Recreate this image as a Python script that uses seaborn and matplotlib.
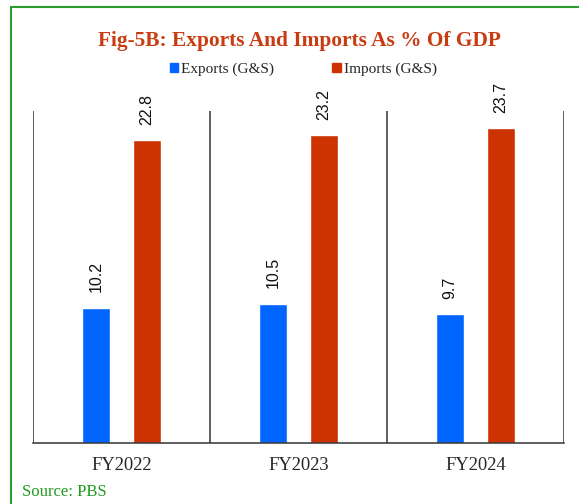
import pandas as pd
import matplotlib.pyplot as plt
import seaborn as sns
from matplotlib.patches import Rectangle

years = ["FY2022", "FY2023", "FY2024"]
exports = [10.2, 10.5, 9.7]
imports = [22.8, 23.2, 23.7]
series = ["Exports (G&S)", "Imports (G&S)"]
colors = ["#0066FF", "#CC3300"]

df = pd.DataFrame({
    "year": years * 2,
    "value": exports + imports,
    "series": [series[0]] * 3 + [series[1]] * 3,
})

sns.set_style("white")
plt.rcParams["font.family"] = ["Liberation Serif", "DejaVu Serif"]

fig = plt.figure(figsize=(5.79, 5.04), dpi=100)
ax = fig.add_axes([0.057, 0.121, 0.917, 0.659])

sns.barplot(data=df, x="year", y="value", hue="series", palette=colors,
            width=0.576, gap=0.45, ax=ax, legend=False, saturation=1)

for cont in ax.containers:
    ax.bar_label(cont, fmt="%.1f", rotation=90, padding=11,
                 fontsize=11.5, family="Liberation Sans", color="#111111")

ax.set_xlim(-0.5, 2.5)
ax.set_ylim(0, 25)
for x in [-0.5, 0.5, 1.5, 2.5]:
    ax.axvline(x, color="#333333", lw=1.1)
for s in ["top", "left", "right"]:
    ax.spines[s].set_visible(False)
ax.spines["bottom"].set_color("#333333")
ax.spines["bottom"].set_linewidth(1.1)
ax.set_yticks([])
ax.set_xlabel("")
ax.set_ylabel("")
ax.tick_params(axis="x", length=0, labelsize=13.3, pad=10)

fig.text(0.517, 0.918, "Fig-5B: Exports And Imports As % Of GDP", ha="center",
         va="center", fontsize=15.4, fontweight="bold", color="#C93C12")

handles = [Rectangle((0, 0), 1, 1, color=c) for c in colors]
fig.legend(handles, series, loc="center", bbox_to_anchor=(0.524, 0.862), ncol=2,
           frameon=False, fontsize=11, handlelength=0.55, handleheight=0.55,
           handletextpad=0.2, columnspacing=3.8)

fig.text(0.038, 0.024, "Source: PBS", ha="left", va="center", fontsize=12,
         color="#1E9A1E")

fig.patches.append(Rectangle((11 / 579, -0.1), 1.2, 1 - 7 / 504 + 0.1,
                             transform=fig.transFigure, fill=False,
                             edgecolor="#2E9B2E", lw=1.5))

fig.savefig("out.png", dpi=100)
